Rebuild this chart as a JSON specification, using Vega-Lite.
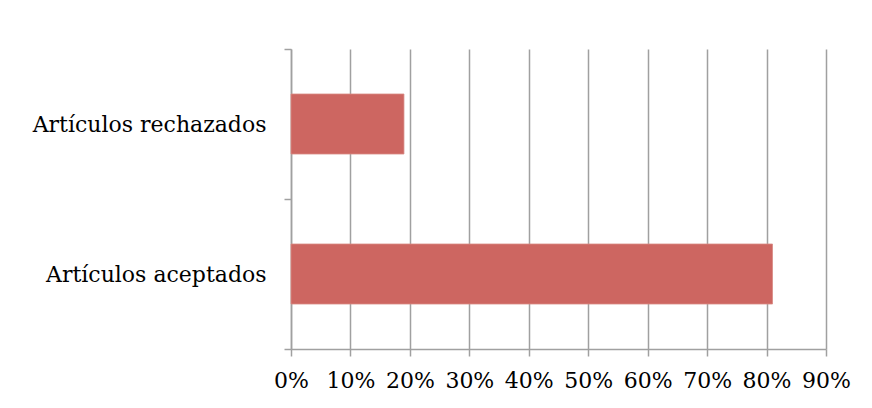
{
  "$schema": "https://vega.github.io/schema/vega-lite/v6.json",
  "autosize": {"type": "none"},
  "padding": {"left": 291, "top": 49, "right": 46, "bottom": 59},
  "width": 535,
  "height": 300,
  "background": "white",
  "data": {"values": [
    {"categoria": "Artículos rechazados", "porcentaje": 0.19},
    {"categoria": "Artículos aceptados", "porcentaje": 0.81}
  ]},
  "mark": {"type": "bar", "color": "#CD6661", "stroke": "#D88A84", "strokeWidth": 0.8, "height": {"band": 0.4}},
  "encoding": {
    "y": {
      "field": "categoria", "type": "nominal",
      "sort": ["Artículos rechazados", "Artículos aceptados"],
      "scale": {"paddingInner": 0, "paddingOuter": 0},
      "axis": {
        "title": null, "tickBand": "extent", "tickSize": 7, "tickColor": "#A0A0A0", "tickWidth": 1.5,
        "domainColor": "#A0A0A0", "domainWidth": 1.5, "labelPadding": 18, "labelLimit": 400,
        "labelFont": "DejaVu Serif", "labelFontSize": 22, "labelColor": "#000000", "grid": false
      }
    },
    "x": {
      "field": "porcentaje", "type": "quantitative",
      "scale": {"domain": [0, 0.9], "nice": false},
      "axis": {
        "title": null, "format": ".0%", "values": [0, 0.1, 0.2, 0.3, 0.4, 0.5, 0.6, 0.7, 0.8, 0.9],
        "grid": true, "gridColor": "#A0A0A0", "gridWidth": 1.5,
        "tickSize": 7, "tickColor": "#A0A0A0", "tickWidth": 1.5,
        "domainColor": "#A0A0A0", "domainWidth": 1.5, "labelPadding": 14,
        "labelFont": "DejaVu Serif", "labelFontSize": 22, "labelColor": "#000000",
        "labelOverlap": false, "labelFlush": false
      }
    }
  },
  "config": {"view": {"stroke": null}}
}
